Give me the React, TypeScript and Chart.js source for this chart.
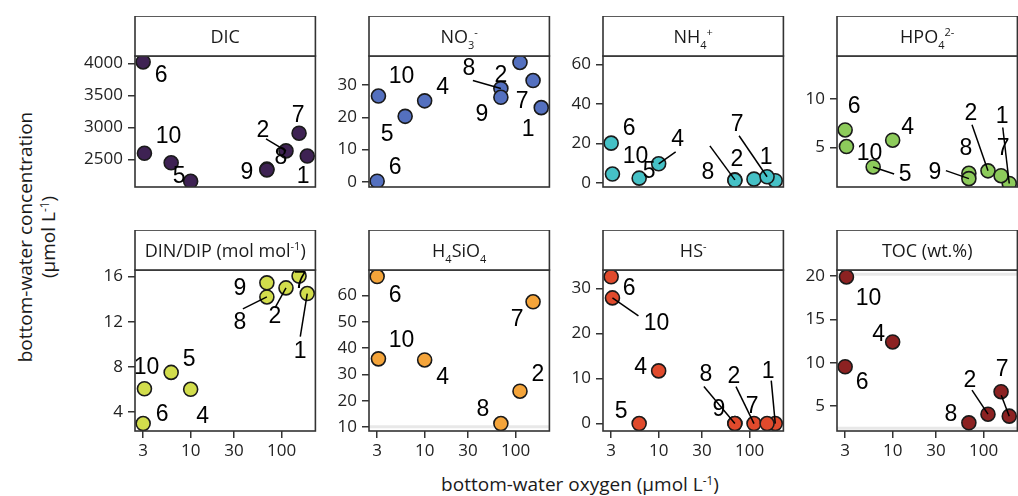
import React, { useEffect, useRef } from "react";
import { Chart, registerables } from "chart.js";

Chart.register(...registerables);

// ---------- data ----------
const stations = ["1", "2", "4", "5", "6", "7", "8", "9", "10"];
const oxygen = [192, 112, 10, 6.1, 3.0, 156, 69, 69, 3.1];

const dic = [2555, 2635, 2161, 2449, 4021, 2910, 2350, 2339, 2597];
const no3 = [23.0, 37.0, 25.1, 20.3, 0.2, 31.4, 28.9, 26.2, 26.6];
const nh4 = [1.0, 1.8, 9.6, 2.3, 20.1, 3.0, 1.4, 1.2, 4.4];
const hpo4 = [1.3, 2.6, 5.75, 3.0, 6.8, 2.1, 2.35, 1.8, 5.1];
const dinDip = [14.5, 15.0, 6.0, 7.5, 2.96, 16.05, 14.2, 15.45, 6.05];
const h4sio4 = [null, 23.6, 35.5, null, 67.2, 57.6, 11.3, null, 35.9];
const hs = [0, 0, 11.7, 0, 32.6, 0, 0, 0, 27.9];
const toc = [3.84, 4.07, 12.4, null, 9.54, 6.66, 3.07, null, 19.9];

const xTicks = [3, 10, 30, 100];
const dicTicks = [2500, 3000, 3500, 4000];
const no3Ticks = [0, 10, 20, 30];
const nh4Ticks = [0, 20, 40, 60];
const hpo4Ticks = [5, 10];
const dinTicks = [4, 8, 12, 16];
const sioTicks = [10, 20, 30, 40, 50, 60];
const hsTicks = [0, 10, 20, 30];
const tocTicks = [5, 10, 15, 20];

// axis limits
const xRange = [2.44, 236];
const dicRange = [2072, 4114];
const no3Range = [-1.6, 39.0];
const nh4Range = [-2.2, 64.4];
const hpo4Range = [0.94, 14.4];
const dinRange = [2.3, 16.59];
const sioRange = [8.47, 69.7];
const hsRange = [-1.65, 34.1];
const tocRange = [2.13, 20.7];

// ---------- label layout (pixel offsets from point: label dx,dy ; optional leader start lx,ly) ----------
const dicLabels = [["6", 18, 13], ["10", 24, -18], ["5", 8, 13], ["9", -20, 2], ["8", 14, -13], ["2", -23, -21, -20, -12], ["7", -1, -19], ["1", -4, 20]];
const no3Labels = [["6", 18, -15], ["10", 23, -20], ["5", -18, 17], ["4", 18, -14], ["8", -32, -21, -28, -8], ["9", -19, 16], ["2", -19, 12], ["7", -11, 20], ["1", -13, 21]];
const nh4Labels = [["6", 18, -15], ["10", 23, -18], ["5", 10, -7], ["4", 19, -25, 17, -12], ["8", -27, -8, -25, -34], ["2", -17, -20], ["7", -30, -53, -28, -41], ["1", -9, -24]];
const hpo4Labels = [["6", 9, -24], ["10", 23, 6], ["4", 15, -14], ["5", 32, 7, 21, 7], ["8", -3, -26], ["9", -34, -7, -23, -8], ["2", -17, -58, -16, -46], ["7", 2, -28], ["1", -7, -68, -6.5, -56]];
const dinLabels = [["10", 2, -22], ["5", 18, -14], ["6", 19, -10], ["4", 12, 26], ["9", -27, 5], ["8", -27, 25, -24, 12], ["2", -11, 28, -11, 20], ["7", 1, 5], ["1", -7, 57, -7, 43]];
const sioLabels = [["6", 18, 18], ["10", 23, -19], ["4", 18, 17], ["8", -18, -15], ["2", 18, -18], ["7", -16, 17]];
const hsLabels = [["6", 18, 11], ["10", 44, 25, 26, 18], ["4", -18, -4], ["5", -18, -13], ["8", -29, -50, -31, -37], ["9", -16, -15], ["2", -20, -48, -18, -37], ["7", -15, -18], ["1", -7, -53, -4, -43]];
const tocLabels = [["10", 22, 21], ["6", 17, 15], ["4", -14, -8], ["8", -18, -9], ["2", -18, -35, -16, -24], ["7", 1, -23], ["1", 30, -40, -8, -21]];

const sioRefLines = [10.1];
const tocRefLines = [20.2, 2.45];

type Part = [string, number]; // 0 normal, 1 sub, 2 sup

const panels = [
  { title: [["DIC", 0]] as Part[], values: dic, ticks: dicTicks, range: dicRange, color: "#3e2253", labels: dicLabels, refs: [] as number[] },
  { title: [["NO", 0], ["3", 1], ["-", 2]] as Part[], values: no3, ticks: no3Ticks, range: no3Range, color: "#5470bf", labels: no3Labels, refs: [] },
  { title: [["NH", 0], ["4", 1], ["+", 2]] as Part[], values: nh4, ticks: nh4Ticks, range: nh4Range, color: "#45c1c6", labels: nh4Labels, refs: [] },
  { title: [["HPO", 0], ["4", 1], ["2-", 2]] as Part[], values: hpo4, ticks: hpo4Ticks, range: hpo4Range, color: "#8dcb5b", labels: hpo4Labels, refs: [] },
  { title: [["DIN/DIP (mol mol", 0], ["-1", 2], [")", 0]] as Part[], values: dinDip, ticks: dinTicks, range: dinRange, color: "#d2dd4c", labels: dinLabels, refs: [] },
  { title: [["H", 0], ["4", 1], ["SiO", 0], ["4", 1]] as Part[], values: h4sio4, ticks: sioTicks, range: sioRange, color: "#f4a43a", labels: sioLabels, refs: sioRefLines },
  { title: [["HS", 0], ["-", 2]] as Part[], values: hs, ticks: hsTicks, range: hsRange, color: "#e04a2c", labels: hsLabels, refs: [] },
  { title: [["TOC (wt.%)", 0]] as Part[], values: toc, ticks: tocTicks, range: tocRange, color: "#8c2222", labels: tocLabels, refs: tocRefLines },
];

const FONT = '"Open Sans", "DejaVu Sans", sans-serif';
const LABEL_FONT = '23px "Liberation Sans", Arial, sans-serif';
const STRIP_H = 40;
const Y_AXIS_W = 70;
const PANEL_W = 187;
const PLOT_H = 161;

function drawRich(ctx: CanvasRenderingContext2D, parts: Part[], cx: number, cy: number, size: number) {
  const small = Math.round(size * 0.62);
  const fontFor = (k: number) => `${k === 0 ? size : small}px ${FONT}`;
  let total = 0;
  const widths: number[] = [];
  for (const [t, k] of parts) {
    ctx.font = fontFor(k);
    const w = ctx.measureText(t).width;
    widths.push(w);
    total += w;
  }
  let x = cx - total / 2;
  const base = cy + size * 0.36;
  ctx.textAlign = "left";
  ctx.textBaseline = "alphabetic";
  ctx.fillStyle = "#1a1a1a";
  parts.forEach(([t, k], i) => {
    ctx.font = fontFor(k);
    const y = k === 1 ? base + size * 0.28 : k === 2 ? base - size * 0.42 : base;
    ctx.fillText(t, x, y);
    x += widths[i];
  });
}

const decorPlugin = {
  id: "panelDecor",
  beforeDatasetsDraw(chart: any) {
    const o = chart.options.plugins.panelDecor;
    const { ctx, chartArea } = chart;
    const ys = chart.scales.y;
    ctx.save();
    ctx.strokeStyle = "#e8e8e8";
    ctx.lineWidth = 3;
    for (const v of o.refs) {
      const y = ys.getPixelForValue(v);
      ctx.beginPath();
      ctx.moveTo(chartArea.left, y);
      ctx.lineTo(chartArea.right, y);
      ctx.stroke();
    }
    ctx.restore();
  },
  afterDatasetsDraw(chart: any) {
    const o = chart.options.plugins.panelDecor;
    const { ctx, chartArea } = chart;
    const xs = chart.scales.x;
    const ys = chart.scales.y;
    ctx.save();
    ctx.beginPath();
    ctx.rect(chartArea.left, chartArea.top, chartArea.right - chartArea.left, chartArea.bottom - chartArea.top);
    ctx.clip();
    ctx.strokeStyle = "#000";
    ctx.lineWidth = 1.5;
    for (const lab of o.labels) {
      const idx = stations.indexOf(lab[0]);
      const v = o.values[idx];
      if (v == null) continue;
      const px = xs.getPixelForValue(oxygen[idx]);
      const py = ys.getPixelForValue(v);
      if (lab.length > 3) {
        ctx.beginPath();
        ctx.moveTo(px + lab[3], py + lab[4]);
        ctx.lineTo(px, py);
        ctx.stroke();
      }
    }
    ctx.font = LABEL_FONT;
    ctx.textAlign = "center";
    ctx.textBaseline = "middle";
    ctx.fillStyle = "#000";
    for (const lab of o.labels) {
      const idx = stations.indexOf(lab[0]);
      const v = o.values[idx];
      if (v == null) continue;
      const px = xs.getPixelForValue(oxygen[idx]);
      const py = ys.getPixelForValue(v);
      ctx.fillText(lab[0], px + lab[1], py + lab[2] + 1);
    }
    ctx.restore();
  },
  afterDraw(chart: any) {
    const o = chart.options.plugins.panelDecor;
    const { ctx, chartArea } = chart;
    const w = chartArea.right - chartArea.left;
    ctx.save();
    ctx.strokeStyle = "#333";
    ctx.lineWidth = 1.6;
    ctx.strokeRect(chartArea.left, chartArea.top, w, chartArea.bottom - chartArea.top);
    ctx.fillStyle = "#fff";
    ctx.fillRect(chartArea.left, chartArea.top - STRIP_H, w, STRIP_H);
    ctx.strokeRect(chartArea.left, chartArea.top - STRIP_H, w, STRIP_H);
    drawRich(ctx, o.title, chartArea.left + w / 2, chartArea.top - STRIP_H / 2 + 1, 18);
    ctx.restore();
  },
};

export default function App() {
  const refs = useRef<(HTMLCanvasElement | null)[]>([]);

  useEffect(() => {
    const charts: Chart[] = [];
    panels.forEach((p, i) => {
      const canvas = refs.current[i];
      if (!canvas) return;
      const row = i < 4 ? 0 : 1;
      const pts = oxygen
        .map((x, k) => ({ x, y: p.values[k] }))
        .filter((d) => d.y != null);
      const tickFont = { family: FONT, size: 17 };
      const c = new Chart(canvas, {
        type: "scatter",
        data: {
          datasets: [
            {
              data: pts as any,
              pointRadius: 7,
              pointHoverRadius: 7,
              pointBackgroundColor: p.color,
              pointBorderColor: "#1a1a1a",
              pointBorderWidth: 1.6,
              clip: 0,
            } as any,
          ],
        },
        options: {
          animation: false,
          responsive: false,
          maintainAspectRatio: false,
          events: [],
          layout: { padding: { top: STRIP_H, right: 2, bottom: row === 0 ? 3 : 2, left: 0 } },
          plugins: {
            legend: { display: false },
            tooltip: { enabled: false },
            panelDecor: { title: p.title, labels: p.labels, values: p.values, refs: p.refs },
          } as any,
          scales: {
            x: {
              type: "logarithmic",
              min: xRange[0],
              max: xRange[1],
              display: row === 1,
              afterBuildTicks: (s: any) => {
                s.ticks = xTicks.map((v) => ({ value: v }));
              },
              afterFit: (s: any) => {
                s.height = 30;
              },
              grid: { drawOnChartArea: false, drawTicks: true, tickLength: 7, color: "#333", lineWidth: 1.5 },
              border: { display: false },
              ticks: { font: tickFont, color: "#222", padding: 3, maxRotation: 0, autoSkip: false, callback: (v: any) => String(v) },
            } as any,
            y: {
              type: "linear",
              min: p.range[0],
              max: p.range[1],
              afterBuildTicks: (s: any) => {
                s.ticks = p.ticks.map((v) => ({ value: v }));
              },
              afterFit: (s: any) => {
                s.width = Y_AXIS_W;
              },
              grid: { drawOnChartArea: false, drawTicks: true, tickLength: 7, color: "#333", lineWidth: 1.5 },
              border: { display: false },
              ticks: { font: tickFont, color: "#222", padding: 5, autoSkip: false, callback: (v: any) => String(v) },
            } as any,
          },
        },
        plugins: [decorPlugin as any],
      });
      charts.push(c);
    });
    return () => charts.forEach((c) => c.destroy());
  }, []);

  const sup = { fontSize: "0.62em", verticalAlign: "0.55em", lineHeight: 0 } as React.CSSProperties;

  return (
    <div
      style={{
        position: "fixed",
        left: 0,
        top: 0,
        width: 1018,
        height: 496,
        overflow: "hidden",
        background: "#fff",
        fontFamily: FONT,
        color: "#1a1a1a",
      }}
    >
      {panels.map((p, i) => {
        const row = i < 4 ? 0 : 1;
        const col = i % 4;
        const L = 135 + 234 * col;
        const top = row === 0 ? 16 : 230;
        const h = row === 0 ? STRIP_H + PLOT_H + 3 : STRIP_H + PLOT_H + 30 + 2;
        const w = Y_AXIS_W + PANEL_W + 2;
        return (
          <canvas
            key={i}
            ref={(el) => {
              refs.current[i] = el;
            }}
            width={w}
            height={h}
            style={{ position: "absolute", left: L - Y_AXIS_W, top, width: w, height: h }}
          />
        );
      })}
      <div
        style={{
          position: "absolute",
          left: 380,
          top: 472,
          width: 400,
          textAlign: "center",
          fontSize: 19,
          lineHeight: "24px",
          whiteSpace: "nowrap",
        }}
      >
        bottom-water oxygen (µmol L<span style={sup}>-1</span>)
      </div>
      <div
        style={{
          position: "absolute",
          left: 36.5 - 160,
          top: 237 - 23,
          width: 320,
          height: 46,
          transform: "rotate(-90deg)",
          transformOrigin: "50% 50%",
          textAlign: "center",
          fontSize: 19,
          lineHeight: "23px",
          whiteSpace: "nowrap",
        }}
      >
        <div>bottom-water concentration</div>
        <div>
          (µmol L<span style={sup}>-1</span>)
        </div>
      </div>
    </div>
  );
}
